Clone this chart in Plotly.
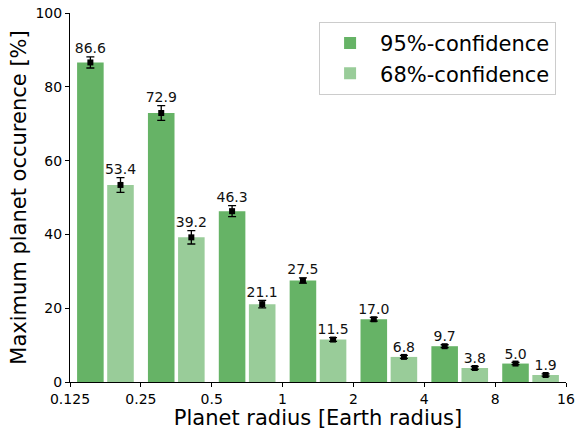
import numpy as np
import plotly.graph_objects as go

bin_lo = [0.125, 0.25, 0.5, 1, 2, 4, 8]
occ95 = [86.6, 72.9, 46.3, 27.5, 17.0, 9.7, 5.0]
occ68 = [53.4, 39.2, 21.1, 11.5, 6.8, 3.8, 1.9]
err95 = [1.5, 2.0, 1.5, 0.7, 0.5, 0.4, 0.3]
err68 = [2.0, 1.8, 1.0, 0.5, 0.4, 0.4, 0.3]
tick_vals = [0.125, 0.25, 0.5, 1, 2, 4, 8, 16]
tick_text = ["0.125", "0.25", "0.5", "1", "2", "4", "8", "16"]

lo = np.log2(bin_lo)
x95 = lo + 0.2875
x68 = lo + 0.7125
W = 0.375
C95 = "#66b366"
C68 = "#99cc99"
FONT = "DejaVu Sans"

fig = go.Figure()
fig.add_trace(go.Bar(x=x95, y=occ95, width=W, marker=dict(color=C95, line=dict(width=0)),
                     name="95%-confidence"))
fig.add_trace(go.Bar(x=x68, y=occ68, width=W, marker=dict(color=C68, line=dict(width=0)),
                     name="68%-confidence"))
for xs, ys, es in [(x95, occ95, err95), (x68, occ68, err68)]:
    fig.add_trace(go.Scatter(x=xs, y=ys, mode="markers",
                             marker=dict(symbol="square", size=6, color="black"),
                             error_y=dict(type="data", array=es, color="black", thickness=1.3, width=4),
                             showlegend=False, hoverinfo="skip"))
    fig.add_trace(go.Scatter(x=xs, y=np.array(ys) + np.array(es), mode="text",
                             text=[f"{v:.1f}" for v in ys], textposition="top center",
                             textfont=dict(family=FONT, size=14, color="#111"),
                             showlegend=False, hoverinfo="skip", cliponaxis=False))

fig.update_layout(
    width=575, height=430,
    margin=dict(l=70, r=9, t=13, b=48),
    plot_bgcolor="white", paper_bgcolor="white",
    barmode="overlay",
    font=dict(family=FONT, color="black"),
    legend=dict(x=0.98, y=0.976, xanchor="right", yanchor="top",
                font=dict(size=21, family=FONT), bordercolor="#cccccc", borderwidth=1,
                bgcolor="rgba(255,255,255,0.8)", tracegroupgap=2, itemwidth=50),
)
fig.update_xaxes(range=[-3, 4], tickvals=list(np.log2(tick_vals)), ticktext=tick_text,
                 automargin=False,
                 showgrid=False, zeroline=False, showline=True, linecolor="black", linewidth=1,
                 ticks="outside", ticklen=4, tickcolor="black", tickfont=dict(size=14),
                 title=dict(text="Planet radius [Earth radius]", font=dict(size=21), standoff=4))
fig.update_yaxes(range=[0, 100], tickvals=[0, 20, 40, 60, 80, 100],
                 automargin=False,
                 showgrid=False, zeroline=False, showline=True, linecolor="black", linewidth=1,
                 ticks="outside", ticklen=4, tickcolor="black", tickfont=dict(size=14),
                 title=dict(text="Maximum planet occurence [%]", font=dict(size=21), standoff=3))
fig.write_html("out.html", config={"displayModeBar": False},
               post_script="document.body.style.margin='0';document.body.style.padding='0';"
                           "document.body.style.overflow='hidden';")
